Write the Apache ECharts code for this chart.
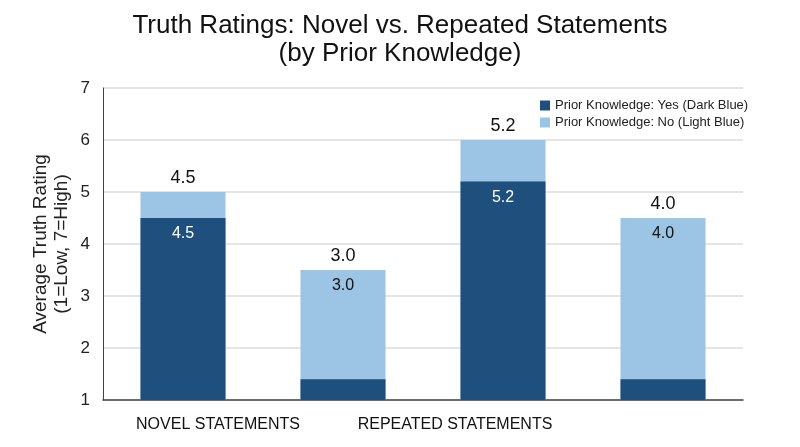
<!DOCTYPE html>
<html>
<head>
<meta charset="utf-8">
<script src="https://cdn.jsdelivr.net/npm/echarts@6/dist/echarts.min.js"></script>
<style>
  html, body { margin: 0; padding: 0; background: #fff; }
  #chart { width: 800px; height: 447px; }
</style>
</head>
<body>
<div id="chart"></div>
<script>
// two bars per group: dark = prior knowledge yes, light = no
const groups = ['NOVEL STATEMENTS', 'REPEATED STATEMENTS']
const slots = ['novel-1', 'novel-2', 'repeated-1', 'repeated-2']
const yesValues = [4.5, 1.4, 5.2, 1.4]
const noValues = [5.0, 3.5, 6.0, 4.5]
const topLabels = ['4.5', '3.0', '5.2', '4.0']
const innerLabels = ['4.5', '3.0', '5.2', '4.0']
const innerOnYes = [true, false, true, false]
const yesName = 'Prior Knowledge: Yes (Dark Blue)'
const noName = 'Prior Knowledge: No (Light Blue)'

const font = '"Liberation Sans", Arial, Helvetica, sans-serif'
const dark = '#1f4f7d'
const light = '#9cc4e5'
const barWidth = 85

const chart = echarts.init(document.getElementById('chart'))

chart.setOption({
  backgroundColor: '#fff',
  textStyle: { fontFamily: font },
  title: {
    text: 'Truth Ratings: Novel vs. Repeated Statements\n(by Prior Knowledge)',
    left: 'center',
    top: 7,
    textStyle: { fontSize: 26, fontWeight: 'normal', lineHeight: 28, color: '#111', fontFamily: font }
  },
  legend: {
    data: [yesName, noName],
    orient: 'vertical',
    left: 535,
    top: 94,
    itemWidth: 10,
    itemHeight: 10,
    itemGap: 4,
    icon: 'rect',
    textStyle: { fontSize: 13, color: '#222', fontFamily: font }
  },
  grid: {
    left: 103,
    right: 57,
    top: 88,
    bottom: 47
  },
  xAxis: {
    type: 'category',
    data: slots.map((s, i) => ({
      value: s,
      // group names sit off-centre in the original
      textStyle: { padding: i === 0 ? [0, 0, 0, 70] : i === 2 ? [0, 96, 0, 0] : 0 }
    })),
    axisLine: { show: true, lineStyle: { color: '#444', width: 1.5 } },
    axisTick: { show: false },
    axisLabel: {
      interval: 0,
      margin: 17,
      fontSize: 16,
      color: '#111',
      fontFamily: '"Liberation Sans Narrow", "Liberation Sans", Arial, sans-serif',
      formatter: (v, i) => (i % 2 === 0 ? groups[i / 2] : '')
    }
  },
  yAxis: {
    type: 'value',
    min: 1,
    max: 7,
    interval: 1,
    name: 'Average Truth Rating\n(1=Low, 7=High)',
    nameLocation: 'middle',
    nameGap: 31,
    nameMoveOverlap: false,
    nameTextStyle: { fontSize: 19, color: '#222', lineHeight: 21, fontFamily: font },
    axisLine: { show: true, lineStyle: { color: '#444', width: 1 } },
    axisTick: { show: false },
    axisLabel: { fontSize: 17, color: '#222', margin: 13 },
    splitLine: { lineStyle: { color: '#dcdcdc', width: 1.5 } }
  },
  series: [
    {
      name: noName,
      type: 'bar',
      data: noValues,
      barWidth,
      barGap: '-100%',
      itemStyle: { color: light },
      label: {
        show: true,
        position: 'top',
        distance: 5,
        fontSize: 18,
        color: '#111',
        formatter: p => topLabels[p.dataIndex]
      }
    },
    {
      name: yesName,
      type: 'bar',
      data: yesValues,
      barWidth,
      barGap: '-100%',
      itemStyle: { color: dark },
      label: {
        show: true,
        position: 'insideTop',
        distance: 8,
        fontSize: 16,
        color: '#fff',
        formatter: p => (innerOnYes[p.dataIndex] ? innerLabels[p.dataIndex] : '')
      }
    },
    {
      // carries the inner label of the light bars only
      name: 'inner',
      type: 'bar',
      data: noValues.map((v, i) => (innerOnYes[i] ? '-' : v)),
      barWidth,
      barGap: '-100%',
      silent: true,
      itemStyle: { color: 'rgba(0,0,0,0)' },
      label: {
        show: true,
        position: 'insideTop',
        distance: 8,
        fontSize: 16,
        color: '#111',
        formatter: p => innerLabels[p.dataIndex]
      }
    }
  ]
})
</script>
</body>
</html>
